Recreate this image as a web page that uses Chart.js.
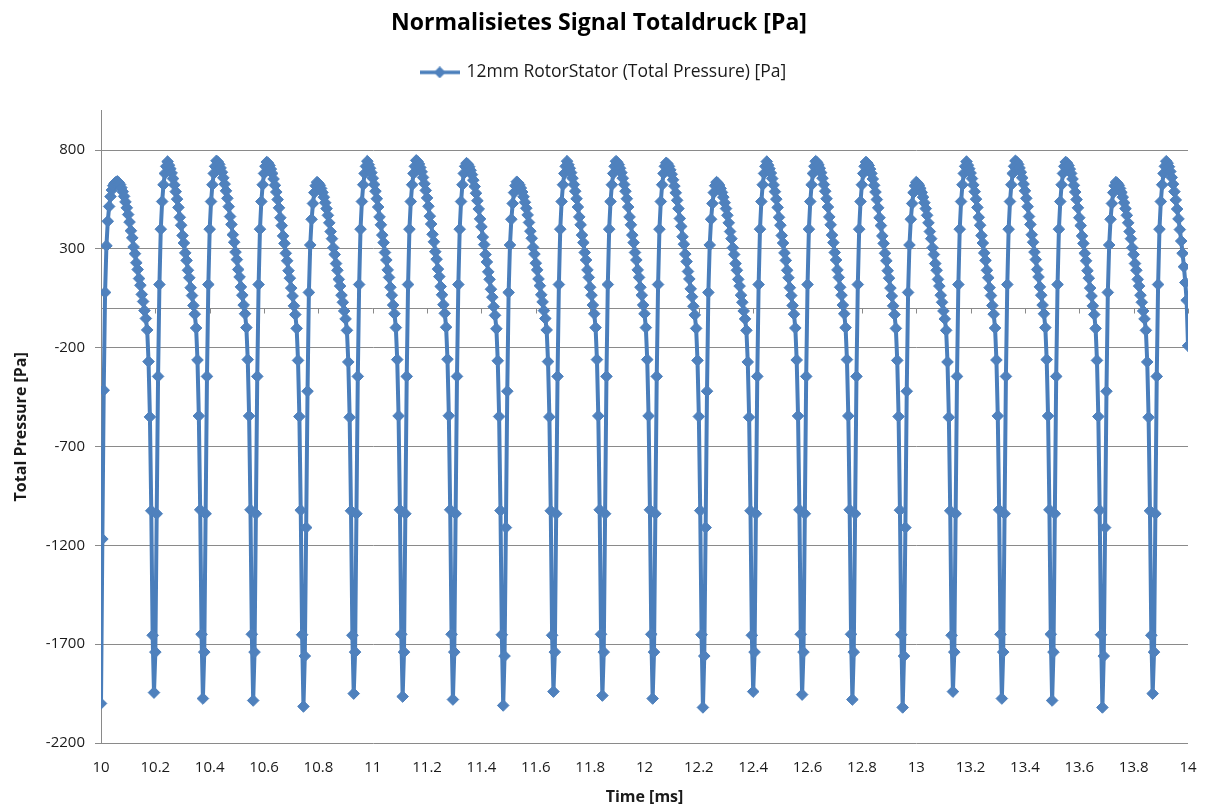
<!DOCTYPE html>
<html>
<head>
<meta charset="utf-8">
<title>Normalisietes Signal Totaldruck</title>
<script src="https://cdn.jsdelivr.net/npm/chart.js@4.4.1/dist/chart.umd.min.js"></script>
<style>
  html, body { margin: 0; padding: 0; background: #ffffff; }
  #wrap { width: 1207px; height: 810px; }
</style>
</head>
<body>
<div id="wrap"><canvas id="chart" width="1207" height="810"></canvas></div>
<script>
// Sampled total pressure signal, 12 mm rotor-stator gap
const timeStartMs = 10;
const timeStepMs = 0.005;

const pressurePa = [
  -2000, -1168, -415, 80, 316, 440, 515, 565, 598, 620, 632, 638,
  642, 636, 626, 610, 590, 566, 538, 508, 474, 436, 392, 356, 310, 276, 230, 196, 150, 116, 70, 34, -12, -52, -110, -270, -550, -1025, -1655, -1945, -1740, -1040, -345, 120, 400, 540, 625, 682, 718,
  742, 724, 706, 684, 656, 624, 590, 552, 510, 460, 420, 368, 330, 280, 242, 192, 154, 104, 64, 14, -30, -100, -262, -545, -1020, -1650, -1975, -1740, -1040, -345, 120, 400, 540, 625, 682, 718,
  746, 740, 728, 710, 688, 660, 628, 594, 556, 514, 464, 424, 372, 334, 284, 246, 196, 158, 108, 66, 16, -28, -98, -260, -545, -1020, -1650, -1985, -1740, -1040, -345, 120, 400, 540, 625, 682, 718,
  740, 734, 722, 704, 682, 654, 622, 588, 550, 508, 458, 418, 366, 328, 278, 240, 190, 152, 102, 62, 12, -32, -102, -264, -548, -1022, -1652, -2015, -1760, -1110, -420, 80, 320, 450, 530, 585, 620,
  638, 632, 622, 606, 586, 562, 534, 504, 470, 432, 388, 352, 306, 272, 226, 192, 146, 112, 66, 30, -14, -54, -112, -272, -552, -1025, -1655, -1950, -1740, -1040, -345, 120, 400, 540, 625, 682, 718,
  744, 726, 708, 686, 658, 626, 592, 554, 512, 462, 422, 370, 332, 282, 244, 194, 156, 106, 66, 16, -28, -98, -260, -545, -1020, -1650, -1965, -1740, -1040, -345, 120, 400, 540, 625, 682, 718,
  748, 742, 730, 712, 690, 662, 630, 596, 558, 516, 466, 426, 374, 336, 286, 248, 198, 160, 110, 68, 18, -26, -96, -258, -544, -1020, -1650, -1980, -1740, -1040, -345, 120, 400, 540, 625, 682, 718,
  734, 728, 716, 698, 676, 648, 616, 582, 544, 502, 452, 412, 360, 322, 272, 234, 184, 146, 96, 56, 8, -36, -104, -266, -548, -1024, -1652, -2010, -1760, -1110, -420, 80, 320, 450, 530, 585, 620,
  640, 634, 624, 608, 588, 564, 536, 506, 472, 434, 390, 354, 308, 274, 228, 194, 148, 114, 68, 32, -12, -52, -110, -270, -550, -1025, -1655, -1940, -1740, -1040, -345, 120, 400, 540, 625, 682, 718,
  744, 726, 708, 686, 658, 626, 592, 554, 512, 462, 422, 370, 332, 282, 244, 194, 156, 106, 66, 16, -28, -98, -260, -545, -1020, -1650, -1960, -1740, -1040, -345, 120, 400, 540, 625, 682, 718,
  744, 738, 726, 708, 686, 658, 626, 592, 554, 512, 462, 422, 370, 332, 282, 244, 194, 156, 106, 66, 16, -28, -98, -260, -545, -1020, -1650, -1975, -1740, -1040, -345, 120, 400, 540, 625, 682, 718,
  736, 730, 718, 700, 678, 650, 618, 584, 546, 504, 454, 414, 362, 324, 274, 236, 186, 148, 98, 58, 10, -34, -102, -264, -548, -1024, -1652, -2020, -1760, -1110, -420, 80, 320, 450, 530, 585, 620,
  638, 632, 622, 606, 586, 562, 534, 504, 470, 432, 388, 352, 306, 272, 226, 192, 146, 112, 66, 30, -14, -54, -112, -272, -552, -1025, -1655, -1940, -1740, -1040, -345, 120, 400, 540, 625, 682, 718,
  742, 724, 706, 684, 656, 624, 590, 552, 510, 460, 420, 368, 330, 280, 242, 192, 154, 104, 64, 14, -30, -100, -262, -545, -1020, -1650, -1955, -1740, -1040, -345, 120, 400, 540, 625, 682, 718,
  744, 738, 726, 708, 686, 658, 626, 592, 554, 512, 462, 422, 370, 332, 282, 244, 194, 156, 106, 66, 16, -28, -98, -260, -545, -1020, -1650, -1980, -1740, -1040, -345, 120, 400, 540, 625, 682, 718,
  740, 734, 722, 704, 682, 654, 622, 588, 550, 508, 458, 418, 366, 328, 278, 240, 190, 152, 102, 62, 12, -32, -102, -264, -548, -1022, -1652, -2020, -1760, -1110, -420, 80, 320, 450, 530, 585, 620,
  638, 632, 622, 606, 586, 562, 534, 504, 470, 432, 388, 352, 306, 272, 226, 192, 146, 112, 66, 30, -14, -54, -112, -272, -552, -1025, -1655, -1940, -1740, -1040, -345, 120, 400, 540, 625, 682, 718,
  742, 724, 706, 684, 656, 624, 590, 552, 510, 460, 420, 368, 330, 280, 242, 192, 154, 104, 64, 14, -30, -100, -262, -545, -1020, -1650, -1975, -1740, -1040, -345, 120, 400, 540, 625, 682, 718,
  746, 740, 728, 710, 688, 660, 628, 594, 556, 514, 464, 424, 372, 334, 284, 246, 196, 158, 108, 66, 16, -28, -98, -260, -545, -1020, -1650, -1985, -1740, -1040, -345, 120, 400, 540, 625, 682, 718,
  740, 734, 722, 704, 682, 654, 622, 588, 550, 508, 458, 418, 366, 328, 278, 240, 190, 152, 102, 62, 12, -32, -102, -264, -548, -1022, -1652, -2020, -1760, -1110, -420, 80, 320, 450, 530, 585, 620,
  638, 632, 622, 606, 586, 562, 534, 504, 470, 432, 388, 352, 306, 272, 226, 192, 146, 112, 66, 30, -14, -54, -112, -272, -552, -1025, -1655, -1950, -1740, -1040, -345, 120, 400, 540, 625, 682, 718,
  744, 734, 716, 692, 662, 628, 590, 548, 502, 452, 398, 340, 278, 210, 130, 40, -190
];

const xTickValues = [10, 10.2, 10.4, 10.6, 10.8, 11, 11.2, 11.4, 11.6, 11.8, 12, 12.2, 12.4, 12.6, 12.8, 13, 13.2, 13.4, 13.6, 13.8, 14];
const yTickValues = [-2200, -1700, -1200, -700, -200, 300, 800];

const seriesLabel = '12mm RotorStator (Total Pressure) [Pa]';
const lineColor = '#4A7EBB';
const markerColor = '#4F81BD';
const gridColor = '#8A8A8A';
const textColor = '#1A1A1A';
const fontFamily = '"Open Sans", Lato, "DejaVu Sans", sans-serif';

const points = pressurePa.map((p, i) => ({ x: timeStartMs + i * timeStepMs, y: p }));

// line + diamond glyph for the legend entry
const legendGlyph = (() => {
  const c = document.createElement('canvas');
  c.width = 40; c.height = 12;
  const g = c.getContext('2d');
  g.strokeStyle = lineColor; g.lineWidth = 3.5;
  g.beginPath(); g.moveTo(0, 6); g.lineTo(40, 6); g.stroke();
  g.fillStyle = markerColor;
  g.beginPath(); g.moveTo(20, 0); g.lineTo(26, 6); g.lineTo(20, 12); g.lineTo(14, 6); g.closePath(); g.fill();
  return c;
})();

// white page behind the chart
const whiteBackground = {
  id: 'whiteBackground',
  beforeDraw(chart) {
    const { ctx, width, height } = chart;
    ctx.save(); ctx.fillStyle = '#ffffff'; ctx.fillRect(0, 0, width, height); ctx.restore();
  }
};

// horizontal axis crossing at 0 Pa, with its tick marks
const zeroAxis = {
  id: 'zeroAxis',
  beforeDatasetsDraw(chart) {
    const { ctx, chartArea, scales } = chart;
    const y0 = Math.round(scales.y.getPixelForValue(0)) + 0.5;
    ctx.save();
    ctx.strokeStyle = gridColor; ctx.lineWidth = 1;
    ctx.beginPath();
    ctx.moveTo(chartArea.left, y0); ctx.lineTo(chartArea.right, y0);
    xTickValues.forEach(v => {
      const x = Math.round(scales.x.getPixelForValue(v)) + 0.5;
      ctx.moveTo(x, y0); ctx.lineTo(x, y0 + 5);
    });
    ctx.stroke();
    ctx.restore();
  }
};

// extra room under the legend
const legendSpacing = {
  id: 'legendSpacing',
  beforeInit(chart) {
    const fit = chart.legend.fit;
    chart.legend.fit = function () { fit.call(this); this.height += 21.5; };
  }
};

// centre the title and legend on the canvas rather than on the padded box
const headerOffset = {
  id: 'headerOffset',
  afterLayout(chart) {
    const t = chart.titleBlock;
    if (t) { t.left += 5; t.right += 5; t.top += 2; t.bottom += 2; }
    const l = chart.legend;
    if (l) { l.left += 10; l.right += 10; l.top += 2; l.bottom += 2; }
  }
};

new Chart(document.getElementById('chart'), {
  type: 'line',
  data: {
    datasets: [{
      label: seriesLabel,
      data: points,
      borderColor: lineColor,
      backgroundColor: markerColor,
      borderWidth: 4,
      tension: 0,
      pointStyle: 'rectRot',
      pointRadius: 5.8,
      pointBorderWidth: 1,
      pointBorderColor: markerColor,
      pointBackgroundColor: markerColor,
      fill: false
    }]
  },
  options: {
    responsive: false,
    animation: false,
    devicePixelRatio: 1,
    layout: { padding: { left: 0, right: 19, top: 0, bottom: 0 } },
    plugins: {
      title: {
        display: true,
        text: 'Normalisietes Signal Totaldruck [Pa]',
        color: '#000000',
        font: { family: fontFamily, size: 23, weight: 'bold' },
        padding: { top: 8, bottom: 16 }
      },
      legend: {
        display: true,
        position: 'top',
        labels: {
          usePointStyle: true,
          pointStyle: legendGlyph,
          pointStyleWidth: 36,
          boxHeight: 12,
          padding: 10,
          color: textColor,
          font: { family: fontFamily, size: 17.5 }
        }
      },
      tooltip: { enabled: false }
    },
    scales: {
      x: {
        type: 'linear',
        min: 10,
        max: 14,
        afterBuildTicks(scale) { scale.ticks = xTickValues.map(v => ({ value: v })); },
        afterFit(scale) { scale.height = 67; scale.paddingLeft = 0; scale.paddingRight = 0; },
        grid: { display: false, drawTicks: false },
        border: { display: false },
        ticks: {
          autoSkip: false, maxRotation: 0, padding: 16,
          color: textColor,
          font: { family: fontFamily, size: 15 },
          callback: v => String(parseFloat(Number(v).toFixed(2)))
        },
        title: {
          display: true, text: 'Time [ms]', color: textColor,
          font: { family: fontFamily, size: 16, weight: 'bold' },
          padding: { top: 0, bottom: 3 }
        }
      },
      y: {
        type: 'linear',
        min: -2200,
        max: 1000,
        afterBuildTicks(scale) { scale.ticks = yTickValues.map(v => ({ value: v })); },
        afterFit(scale) { scale.width = 101; },
        grid: { color: gridColor, lineWidth: 1, tickLength: 6, drawTicks: true },
        border: { display: true, color: gridColor, width: 1 },
        ticks: {
          padding: 10,
          color: textColor,
          font: { family: fontFamily, size: 15 },
          callback: v => String(v)
        },
        title: {
          display: true, text: 'Total Pressure [Pa]', color: textColor,
          font: { family: fontFamily, size: 16, weight: 'bold' },
          padding: { top: 12, bottom: 0 }
        }
      }
    }
  },
  plugins: [whiteBackground, zeroAxis, legendSpacing, headerOffset]
});
</script>
</body>
</html>
